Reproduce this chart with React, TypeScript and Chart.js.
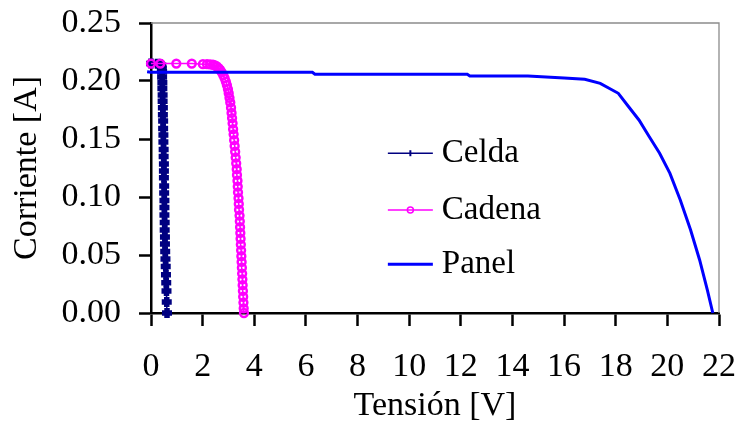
import React, { useEffect, useRef } from "react";
import { Chart, registerables } from "chart.js";

Chart.register(...registerables);

const xTicks = [0, 2, 4, 6, 8, 10, 12, 14, 16, 18, 20, 22];
const yTicks = [0, 0.05, 0.1, 0.15, 0.2, 0.25];

const seriesNames = ["Celda", "Cadena", "Panel"];

const celdaV = [0.0, 0.25, 0.35, 0.4, 0.42, 0.43, 0.43, 0.44, 0.44, 0.45, 0.45, 0.46, 0.46, 0.47, 0.47, 0.48, 0.48, 0.49, 0.49, 0.5, 0.5, 0.5, 0.51, 0.51, 0.52, 0.52, 0.52, 0.53, 0.53, 0.54, 0.54, 0.55, 0.56, 0.57, 0.58, 0.59, 0.6, 0.61, 0.62];
const celdaI = [0.215, 0.2148, 0.2145, 0.2135, 0.211, 0.208, 0.2035, 0.1985, 0.1935, 0.188, 0.1825, 0.177, 0.171, 0.1655, 0.159, 0.1535, 0.1475, 0.141, 0.135, 0.1285, 0.1225, 0.1165, 0.1095, 0.1035, 0.097, 0.091, 0.0845, 0.078, 0.0715, 0.0655, 0.0595, 0.053, 0.0465, 0.04, 0.033, 0.026, 0.019, 0.0095, 0.0];

const cadenaV = [0.0, 0.36, 0.98, 1.58, 2.01, 2.17, 2.29, 2.4, 2.48, 2.55, 2.62, 2.68, 2.74, 2.8, 2.85, 2.9, 2.94, 2.98, 3.01, 3.04, 3.07, 3.1, 3.12, 3.14, 3.16, 3.18, 3.2, 3.22, 3.24, 3.26, 3.28, 3.3, 3.32, 3.33, 3.35, 3.36, 3.37, 3.39, 3.4, 3.41, 3.43, 3.44, 3.45, 3.46, 3.47, 3.48, 3.49, 3.5, 3.51, 3.52, 3.53, 3.54, 3.55, 3.56, 3.57, 3.58, 3.59, 3.6];
const cadenaI = [0.215, 0.215, 0.215, 0.215, 0.2145, 0.2145, 0.2143, 0.214, 0.2135, 0.2125, 0.211, 0.2095, 0.2075, 0.205, 0.2025, 0.1995, 0.1965, 0.193, 0.1895, 0.1855, 0.1815, 0.177, 0.1725, 0.168, 0.1635, 0.1585, 0.154, 0.149, 0.144, 0.139, 0.134, 0.129, 0.124, 0.119, 0.114, 0.109, 0.104, 0.099, 0.094, 0.089, 0.084, 0.079, 0.074, 0.069, 0.064, 0.059, 0.054, 0.049, 0.044, 0.039, 0.034, 0.029, 0.024, 0.019, 0.014, 0.009, 0.004, 0.0];

const panelV = [-0.15, 0.0, 2.0, 4.0, 6.25, 6.35, 8.0, 10.0, 12.25, 12.35, 14.6, 16.0, 16.8, 17.4, 18.1, 18.5, 18.9, 19.3, 19.7, 20.1, 20.5, 20.9, 21.25, 21.55, 21.76];
const panelI = [0.208, 0.2075, 0.2075, 0.2075, 0.2075, 0.2058, 0.2058, 0.2058, 0.2058, 0.2043, 0.2043, 0.2025, 0.2015, 0.198, 0.1894, 0.1778, 0.1664, 0.152, 0.1377, 0.1204, 0.0974, 0.0716, 0.0457, 0.0198, 0.0];

const FONT = "'Liberation Serif', 'Times New Roman', serif";
const FS = 34;

function pts(xs: number[], ys: number[]) {
  return xs.map((x, i) => ({ x, y: ys[i] }));
}

const frameAndLegend = {
  id: "frameAndLegend",
  beforeDatasetsDraw(chart: any) {
    const { ctx, chartArea } = chart;
    ctx.save();
    ctx.strokeStyle = "#8c8c8c";
    ctx.lineWidth = 1.3;
    ctx.beginPath();
    ctx.moveTo(chartArea.left, chartArea.top);
    ctx.lineTo(chartArea.right, chartArea.top);
    ctx.lineTo(chartArea.right, chartArea.bottom);
    ctx.stroke();
    ctx.restore();
  },
  afterDraw(chart: any) {
    const { ctx, chartArea } = chart;
    const w = chartArea.right - chartArea.left;
    const h = chartArea.bottom - chartArea.top;
    const x0 = chartArea.left + 0.417 * w;
    const len = 45;
    const rows = [0.449, 0.645, 0.832];
    ctx.save();
    chart.data.datasets.forEach((ds: any, i: number) => {
      const y = chartArea.top + rows[i] * h;
      ctx.strokeStyle = ds.borderColor;
      ctx.lineWidth = ds.borderWidth;
      ctx.beginPath();
      ctx.moveTo(x0, y);
      ctx.lineTo(x0 + len, y);
      ctx.stroke();
      const cx = x0 + len / 2;
      if (ds.pointStyle === "cross") {
        ctx.lineWidth = 2;
        ctx.beginPath();
        ctx.moveTo(cx, y - 3);
        ctx.lineTo(cx, y + 3);
        ctx.stroke();
      } else if (ds.pointStyle === "circle" && ds.pointRadius > 0) {
        ctx.lineWidth = 1.5;
        ctx.beginPath();
        ctx.arc(cx, y, 3, 0, Math.PI * 2);
        ctx.stroke();
      }
      ctx.fillStyle = "#000";
      ctx.font = `33px ${FONT}`;
      ctx.textAlign = "left";
      ctx.textBaseline = "middle";
      ctx.fillText(ds.label, x0 + 54, y);
    });
    ctx.restore();
  },
};

const zeroPad = (s: any) => {
  s.paddingTop = 0;
  s.paddingBottom = 0;
  s.paddingLeft = 0;
  s.paddingRight = 0;
};

export default function App() {
  const ref = useRef<HTMLCanvasElement>(null);
  useEffect(() => {
    if (!ref.current) return;
    const chart = new Chart(ref.current, {
      type: "scatter",
      data: {
        datasets: [
          {
            label: seriesNames[0],
            data: pts(celdaV, celdaI),
            showLine: true,
            borderColor: "#000080",
            backgroundColor: "#000080",
            borderWidth: 1.5,
            pointStyle: "cross",
            pointRadius: 5,
            pointBorderWidth: 5.5,
            pointBorderColor: "#000080",
            clip: false,
            order: 2,
          } as any,
          {
            label: seriesNames[1],
            data: pts(cadenaV, cadenaI),
            showLine: true,
            borderColor: "#ff00ff",
            backgroundColor: "rgba(0,0,0,0)",
            borderWidth: 1.5,
            pointStyle: "circle",
            pointRadius: 3.9,
            pointBorderWidth: 2.5,
            pointBorderColor: "#ff00ff",
            pointBackgroundColor: "rgba(0,0,0,0)",
            clip: false,
            order: 1,
          } as any,
          {
            label: seriesNames[2],
            data: pts(panelV, panelI),
            showLine: true,
            borderColor: "#0000ff",
            backgroundColor: "#0000ff",
            borderWidth: 3,
            pointRadius: 0,
            pointStyle: "line",
            clip: false,
            order: 0,
          } as any,
        ],
      },
      options: {
        responsive: false,
        animation: false,
        events: [],
        layout: { padding: { top: 23, right: 20, left: 0, bottom: 0 } },
        plugins: { legend: { display: false }, tooltip: { enabled: false } },
        scales: {
          x: {
            type: "linear",
            min: xTicks[0],
            max: xTicks[xTicks.length - 1],
            afterBuildTicks: (s: any) => {
              s.ticks = xTicks.map((v) => ({ value: v }));
            },
            afterFit: (s: any) => {
              s.height = 111;
              zeroPad(s);
            },
            ticks: {
              color: "#000",
              font: { family: FONT, size: FS },
              padding: 21,
              maxRotation: 0,
              autoSkip: false,
              callback: (v: any) => String(v),
            },
            grid: {
              drawOnChartArea: false,
              drawTicks: true,
              tickLength: 13,
              tickColor: "#000",
              tickWidth: 2.5,
            },
            border: { display: true, color: "#000", width: 2.5 },
            title: {
              display: true,
              text: "Tensión [V]",
              color: "#000",
              font: { family: FONT, size: FS },
              padding: { top: 0, bottom: -2 },
            },
          },
          y: {
            type: "linear",
            min: yTicks[0],
            max: yTicks[yTicks.length - 1],
            afterBuildTicks: (s: any) => {
              s.ticks = yTicks.map((v) => ({ value: v }));
            },
            afterFit: (s: any) => {
              s.width = 151;
              zeroPad(s);
            },
            ticks: {
              color: "#000",
              font: { family: FONT, size: FS },
              padding: 18,
              autoSkip: false,
              callback: (v: any) => Number(v).toFixed(2),
            },
            grid: {
              drawOnChartArea: false,
              drawTicks: true,
              tickLength: 12,
              tickColor: "#000",
              tickWidth: 2.5,
            },
            border: { display: true, color: "#000", width: 2.5 },
            title: {
              display: true,
              text: "Corriente [A]",
              color: "#000",
              font: { family: FONT, size: FS },
              padding: { top: 7, bottom: 0 },
            },
          },
        },
      },
      plugins: [frameAndLegend],
    });
    return () => chart.destroy();
  }, []);
  return (
    <div style={{ position: "fixed", left: 0, top: 0, width: 739, height: 424, background: "#fff" }}>
      <canvas ref={ref} width={739} height={424} style={{ width: 739, height: 424, display: "block" }} />
    </div>
  );
}
